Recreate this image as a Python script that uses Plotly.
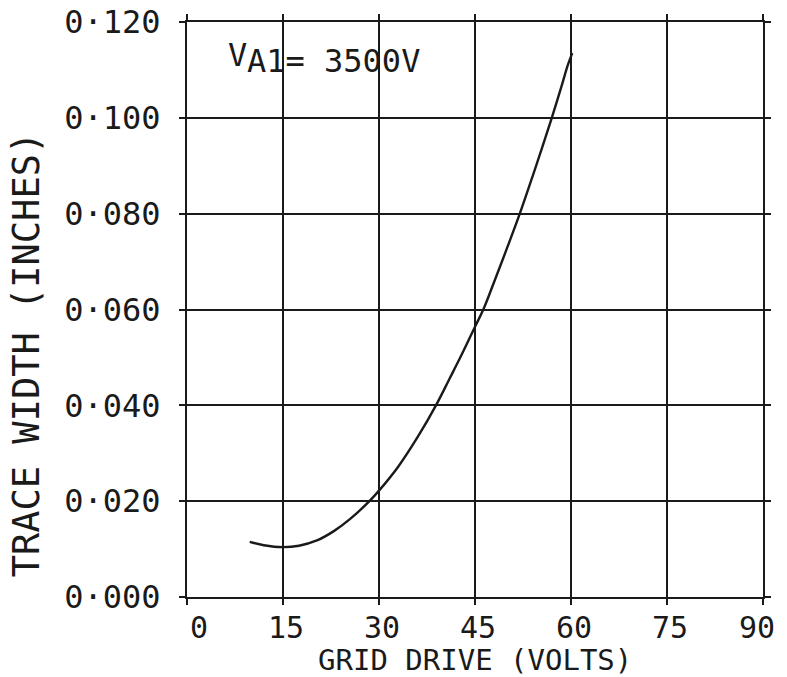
import plotly.graph_objects as go

# Data
grid_drive_volts = [9.8, 12.0, 15.0, 17.5, 20.3, 23.0, 25.5, 28.5, 30.0, 33.0, 36.0,
                    38.9, 41.0, 43.0, 45.0, 46.3, 48.0, 50.0, 52.0, 54.0, 57.0,
                    58.5, 59.5, 60.2]
trace_width_inches = [0.0115, 0.0108, 0.0104, 0.0107, 0.0118, 0.0138, 0.0163, 0.0200,
                      0.0222, 0.0272, 0.0333, 0.0400, 0.0455, 0.0508, 0.0564, 0.0600,
                      0.0658, 0.0728, 0.0800, 0.0878, 0.1000, 0.1065, 0.1110, 0.1135]

x_tick_values = [0, 15, 30, 45, 60, 75, 90]
x_tick_labels = ["0", "15", "30", "45", "60", "75", "90"]
y_tick_values = [0.0, 0.02, 0.04, 0.06, 0.08, 0.10, 0.12]
y_tick_labels = ["0·000", "0·020", "0·040", "0·060", "0·080", "0·100", "0·120"]

x_title = "GRID DRIVE (VOLTS)"
y_title = "TRACE WIDTH (INCHES)"
note_main = "V"
note_sub = "A1= 3500V"

FONT = "DejaVu Sans Mono"
INK = "#1a1a1a"

fig = go.Figure()
fig.add_trace(go.Scatter(
    x=grid_drive_volts, y=trace_width_inches, mode="lines",
    line=dict(color=INK, width=2.4, shape="spline", smoothing=1.0),
    showlegend=False, hoverinfo="skip"))

# padding with no-break spaces: the first label sits right of its line (as the
# plotter drew it); the last is pulled left so it stays inside the page edge
x_text = []
for i, t in enumerate(x_tick_labels):
    if len(t) == 1:
        t = "\u00a0" + t
    if i == len(x_tick_labels) - 1:
        t = t + "\u00a0"
    x_text.append(t)

fig.update_xaxes(
    range=[0, 90], tickmode="array", tickvals=x_tick_values, ticktext=x_text,
    showgrid=True, gridcolor=INK, gridwidth=2,
    showline=True, linecolor=INK, linewidth=2, mirror="ticks",
    ticks="outside", ticklen=6, tickwidth=2, tickcolor=INK,
    ticklabelshift=3, ticklabelstandoff=-3, ticklabeloverflow="allow",
    tickfont=dict(family=FONT, size=30, color=INK),
    automargin=False, zeroline=False)
fig.update_yaxes(
    range=[0, 0.12], tickmode="array", tickvals=y_tick_values, ticktext=y_tick_labels,
    showgrid=True, gridcolor=INK, gridwidth=2,
    showline=True, linecolor=INK, linewidth=2, mirror="ticks",
    ticks="outside", ticklen=6, tickwidth=2, tickcolor=INK,
    ticklabelstandoff=12, ticklabeloverflow="allow",
    tickfont=dict(family=FONT, size=32, color=INK),
    automargin=False, zeroline=False)

# axis titles
fig.add_annotation(x=0.5, y=-0.110, xref="paper", yref="paper", text=x_title,
                   showarrow=False, xanchor="center", yanchor="middle",
                   font=dict(family=FONT, size=29, color=INK))
fig.add_annotation(x=-0.279, y=0.4226, xref="paper", yref="paper", text=y_title,
                   showarrow=False, xanchor="center", yanchor="middle", textangle=-90,
                   font=dict(family=FONT, size=37, color=INK))

fig.add_annotation(x=6.1, y=0.1131, xref="x", yref="y", text=note_main,
                   showarrow=False, xanchor="left", yanchor="middle",
                   font=dict(family=FONT, size=32, color=INK))
fig.add_annotation(x=9.0, y=0.1119, xref="x", yref="y", text=note_sub,
                   showarrow=False, xanchor="left", yanchor="middle",
                   font=dict(family=FONT, size=32, color=INK))

# the page body adds an 8px offset, so the figure is 8px smaller and margins shifted
fig.update_layout(
    width=779, height=669, autosize=False,
    margin=dict(l=179, r=24, t=14, b=80),
    paper_bgcolor="white", plot_bgcolor="white")

fig.write_html(
    "out.html",
    post_script="document.documentElement.style.overflow='hidden';"
                "document.body.style.overflow='hidden';")
